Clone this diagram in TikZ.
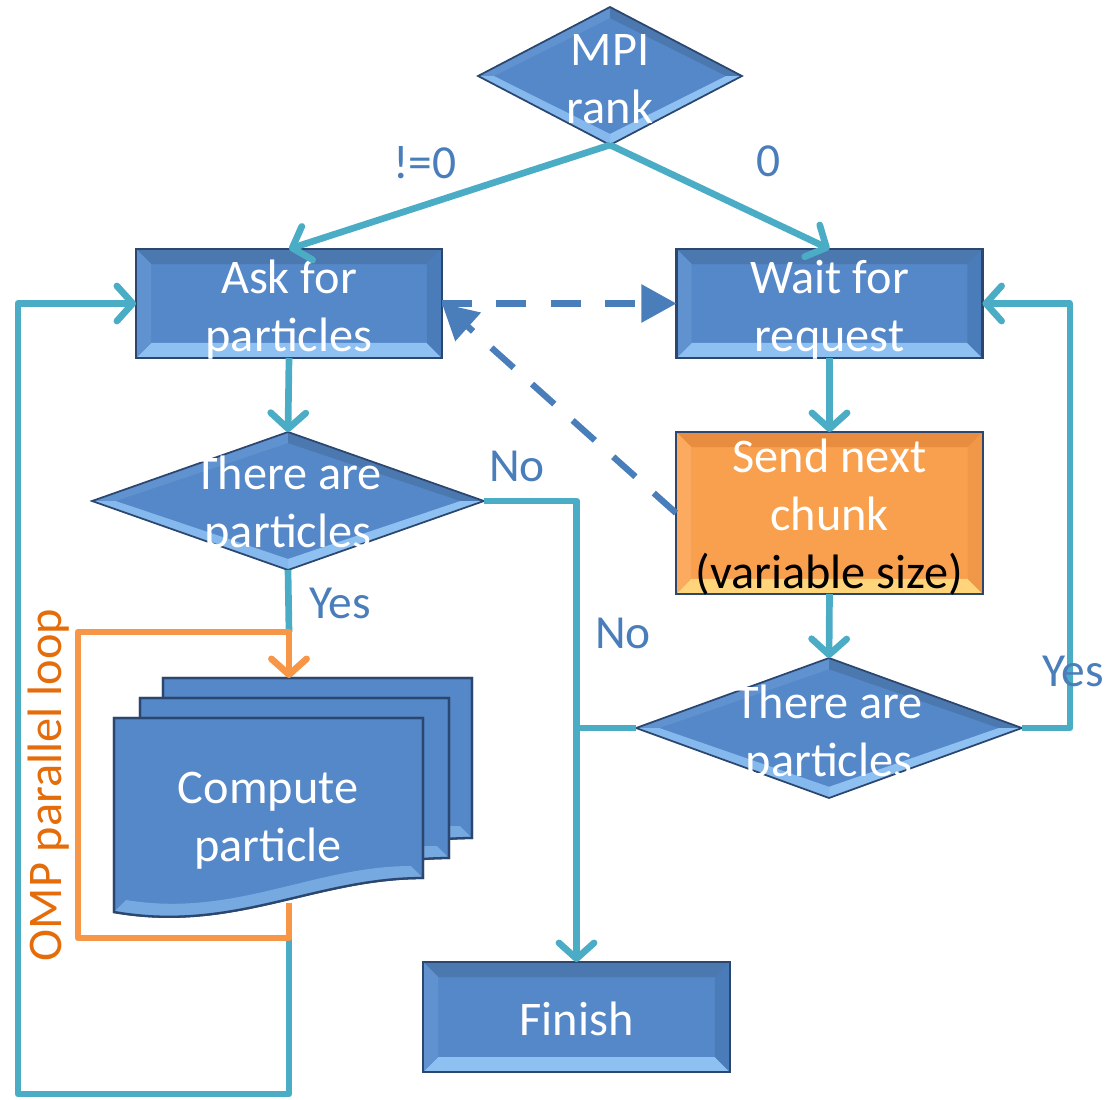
\documentclass[tikz,border=0pt]{standalone}
\usepackage{fontspec}
\setmainfont{Carlito}
\usetikzlibrary{arrows.meta,shapes.geometric,calc}
\definecolor{boxblue}{HTML}{5588C8}
\definecolor{boxedge}{HTML}{2B4770}
\definecolor{bvtop}{HTML}{4C78B0}
\definecolor{bvbot}{HTML}{8EC0F2}
\definecolor{bvleft}{HTML}{6192D0}
\definecolor{bvright}{HTML}{4A7CBA}
\definecolor{orfill}{HTML}{F9A04E}
\definecolor{ortop}{HTML}{E88C40}
\definecolor{orbot}{HTML}{FFD47A}
\definecolor{orleft}{HTML}{FBAA60}
\definecolor{orright}{HTML}{F19848}
\definecolor{tealc}{HTML}{4BACC6}
\definecolor{lblue}{HTML}{4A7EBB}
\definecolor{orline}{HTML}{F79646}
\definecolor{omptext}{HTML}{E46C0A}
\begin{document}
\begin{tikzpicture}[x=0.02cm,y=-0.02cm,
  txt/.style={text=white, align=center, font=\fontsize{27.5}{33}\selectfont, inner sep=0pt},
  lbl/.style={text=lblue, font=\fontsize{27}{33}\selectfont, inner sep=0pt},
  bevelrect/.style n args={4}{path picture={
    \path (path picture bounding box.north west) coordinate (pNW)
          (path picture bounding box.north east) coordinate (pNE)
          (path picture bounding box.south west) coordinate (pSW)
          (path picture bounding box.south east) coordinate (pSE);
    \fill[#1] (pNW) -- (pNE) -- ($(pNE)+(-0.3cm,-0.3cm)$) -- ($(pNW)+(0.3cm,-0.3cm)$) -- cycle;
    \fill[#2] (pSW) -- (pSE) -- ($(pSE)+(-0.3cm,0.3cm)$) -- ($(pSW)+(0.3cm,0.3cm)$) -- cycle;
    \fill[#3] (pNW) -- (pSW) -- ($(pSW)+(0.3cm,0.3cm)$) -- ($(pNW)+(0.3cm,-0.3cm)$) -- cycle;
    \fill[#4] (pNE) -- (pSE) -- ($(pSE)+(-0.3cm,0.3cm)$) -- ($(pNE)+(-0.3cm,-0.3cm)$) -- cycle;
  }},
  beveldia/.style={path picture={
    \path (path picture bounding box.center) coordinate (dC)
          (path picture bounding box.north) coordinate (dN)
          (path picture bounding box.south) coordinate (dS)
          (path picture bounding box.east) coordinate (dE)
          (path picture bounding box.west) coordinate (dW);
    \path ($(dC)!0.84!(dN)$) coordinate (iN) ($(dC)!0.84!(dS)$) coordinate (iS)
          ($(dC)!0.88!(dE)$) coordinate (iE) ($(dC)!0.88!(dW)$) coordinate (iW);
    \fill[bvleft] (dW) -- (dN) -- (iN) -- (iW) -- cycle;
    \fill[bvtop] (dN) -- (dE) -- (iE) -- (iN) -- cycle;
    \fill[bvbot] (dE) -- (dS) -- (iS) -- (iE) -- cycle;
    \fill[bvbot!85!boxblue] (dS) -- (dW) -- (iW) -- (iS) -- cycle;
  }},
  bluebox/.style={rectangle, fill=boxblue, draw=boxedge, line width=1.3pt, inner sep=0pt, outer sep=0pt,
    bevelrect={bvtop}{bvbot}{bvleft}{bvright}},
  orbox/.style={rectangle, fill=orfill, draw=boxedge, line width=1.3pt, inner sep=0pt, outer sep=0pt,
    bevelrect={ortop}{orbot}{orleft}{orright}},
  bluedia/.style={diamond, fill=boxblue, draw=boxedge, line width=1pt, inner sep=0pt, outer sep=0pt, beveldia},
  docshape/.style={fill=boxblue, draw=boxedge, line width=1.3pt},
  tl/.style={draw=tealc, line width=3.8pt, line join=round,
    -{Straight Barb[length=9pt,width=20pt,round]}},
  tlplain/.style={draw=tealc, line width=3.8pt, line join=round},
  ol/.style={draw=orline, line width=3.8pt, line join=round,
    -{Straight Barb[length=9pt,width=20pt,round]}},
  dl/.style={draw=lblue, line width=3.6pt, dash pattern=on 17pt off 14pt,
    -{Triangle[length=20pt,width=21pt]}}
]
\useasboundingbox (0,0) rectangle (1105,1099);

% nodes
\node[bluedia, minimum width=5.28cm, minimum height=2.76cm] (mpi) at (610,76) {};
\node[txt] (mpit) at (610,79) {MPI\\rank};

\node[bluebox, minimum width=6.12cm, minimum height=2.18cm] (ask) at (289,303.5) {};
\node[txt] (askt) at (289,310) {Ask for\\particles};
\node[bluebox, minimum width=6.12cm, minimum height=2.18cm] (wait) at (829.5,303.5) {};
\node[txt] (waitt) at (829.5,310) {Wait for\\request};
\node[orbox, minimum width=6.14cm, minimum height=3.24cm] (send) at (829.5,513) {};
\node[txt] (sendt) at (829.5,517) {Send next\\chunk\\\textcolor{black}{(variable size)}};

\node[bluedia, minimum width=7.84cm, minimum height=2.76cm] (d1) at (288,501) {};
\node[txt] (d1t) at (288,506) {There are\\particles};
\node[bluedia, minimum width=7.72cm, minimum height=2.8cm] (d2) at (829,728) {};
\node[txt] (d2t) at (829,735) {There are\\particles};

\node[bluebox, minimum width=6.14cm, minimum height=2.2cm] (finish) at (576.5,1017) {};
\node[txt] (finisht) at (576.5,1019) {Finish};

% stacked documents
\foreach \px/\py in {163/678, 140/698, 114/718}{
  \filldraw[docshape] (\px,\py) -- (\px+309,\py) -- (\px+309,\py+160)
    .. controls (\px+200,\py+160) and (\px+120,\py+215) .. (\px,\py+194) -- cycle;
  \fill[bvbot, opacity=0.6] (\px+309,\py+160) .. controls (\px+200,\py+160) and (\px+120,\py+215) .. (\px,\py+194)
    -- (\px+12,\py+182) .. controls (\px+120,\py+200) and (\px+200,\py+148) .. (\px+297,\py+148) -- cycle;
  \draw[boxedge, line width=1.3pt] (\px,\py) -- (\px+309,\py) -- (\px+309,\py+160)
    .. controls (\px+200,\py+160) and (\px+120,\py+215) .. (\px,\py+194) -- cycle;
}
\node[txt] (comp) at (268,821) {Compute\\particle};
\coordinate (ctop) at (289,678);
\coordinate (cbot) at (289,903);
\coordinate (ojoin) at (289,632);

% connectors
\draw[tl] (mpi.south) -- (ask.north);
\draw[tl] (mpi.south) -- (wait.north);
\draw[tl] (ask.south) -- (d1.north);
\draw[tlplain] (d1.south) -- (ojoin);
\draw[tl] (d1.east) -| (finish.north);
\draw[tlplain] (d2.west) -- (d2.west -| finish.north);
\draw[tl] (wait.south) -- (send.north);
\draw[tl] (send.south) -- (d2.north);
\draw[tl] (d2.east) -- ++(48,0) |- (wait.east);
\draw[tl] (cbot) -- (289,1094) -- (18,1094) |- (ask.west);
\draw[ol] (cbot) -- (289,938) -- (78,938) -- (78,632) -- (ojoin) -- (ctop);
\draw[dl] (ask.east) -- (wait.west);
\draw[dl] (send.west) -- (ask.east);

% labels
\node[lbl] (lne) at (425,163) {!=0};
\node[lbl] (lz) at (769,161) {0};
\node[lbl] (lno1) at (517,466) {No};
\node[lbl] (lyes1) at (340,603) {Yes};
\node[lbl] (lno2) at (623,633) {No};
\node[lbl] (lyes2) at (1073,671) {Yes};
\node[text=omptext, font=\fontsize{27.5}{33}\selectfont, inner sep=0pt, rotate=90] (omp) at (49,785) {OMP parallel loop};
\end{tikzpicture}
\end{document}
